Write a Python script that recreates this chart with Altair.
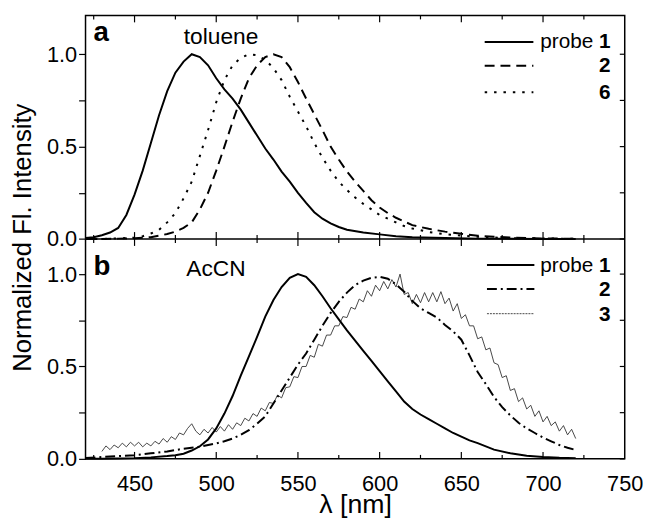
import altair as alt
import numpy as np
import pandas as pd

# ---------------- data ----------------
# Panel a: toluene
A1_WL = [420,425,430,435,440,445,450,455,460,465,470,475,480,485,490,495,500,505,510,515,520,525,530,535,540,545,550,555,560,565,570,575,580,590,600,610,620,640,660,680,700,720]
A1_I = [0.005,0.01,0.02,0.035,0.06,0.13,0.24,0.37,0.52,0.67,0.80,0.90,0.96,1.0,0.985,0.94,0.87,0.81,0.76,0.70,0.63,0.56,0.49,0.43,0.365,0.31,0.25,0.195,0.145,0.11,0.085,0.065,0.05,0.035,0.025,0.015,0.01,0.005,0.002,0.001,0.0,0.0]

A2_WL = [420,430,440,450,460,465,470,475,480,485,490,495,500,505,510,515,520,525,530,535,540,545,550,555,560,565,570,575,580,585,590,595,600,605,610,615,620,630,640,650,660,670,680,690,700,710,720]
A2_I = [0.0,0.0,0.002,0.004,0.01,0.018,0.027,0.04,0.06,0.09,0.16,0.25,0.37,0.50,0.635,0.76,0.87,0.94,0.985,1.0,0.985,0.93,0.85,0.76,0.675,0.59,0.50,0.43,0.365,0.31,0.26,0.21,0.17,0.14,0.115,0.095,0.075,0.055,0.04,0.028,0.018,0.012,0.008,0.005,0.003,0.002,0.001]

A6_WL = [420,430,440,450,455,460,465,470,475,480,485,490,495,500,505,510,515,520,525,530,535,540,545,550,555,560,565,570,575,580,585,590,595,600,605,610,615,620,630,640,650,660,670,680,700,720]
A6_I = [0.0,0.0,0.003,0.008,0.015,0.03,0.05,0.09,0.14,0.22,0.31,0.45,0.59,0.74,0.86,0.94,0.98,1.0,0.995,0.97,0.925,0.86,0.77,0.69,0.61,0.52,0.44,0.37,0.31,0.265,0.225,0.19,0.16,0.13,0.11,0.09,0.07,0.057,0.038,0.026,0.018,0.012,0.008,0.005,0.003,0.001]

# Panel b: AcCN
B1_WL = [420,430,440,450,460,470,475,480,485,490,495,500,505,510,515,520,525,530,535,540,545,550,555,560,565,570,575,580,585,590,595,600,605,610,615,620,625,630,635,640,645,650,655,660,670,680,690,700,710,720]
B1_I = [0.0,0.0,0.002,0.004,0.008,0.015,0.02,0.028,0.045,0.068,0.105,0.165,0.245,0.34,0.45,0.555,0.66,0.77,0.86,0.93,0.98,1.0,0.985,0.94,0.88,0.815,0.755,0.695,0.64,0.585,0.53,0.475,0.42,0.365,0.31,0.27,0.24,0.215,0.19,0.165,0.14,0.12,0.10,0.085,0.05,0.03,0.017,0.01,0.006,0.004]

B2_WL = [420,430,440,450,460,470,480,490,500,505,510,515,520,525,530,535,540,545,550,555,560,565,570,575,580,585,590,595,600,605,610,615,620,625,630,635,640,645,650,655,660,665,670,675,680,685,690,695,700,705,710,715,720]
B2_I = [0.005,0.01,0.015,0.02,0.03,0.04,0.055,0.066,0.084,0.095,0.11,0.13,0.155,0.19,0.23,0.30,0.37,0.44,0.51,0.57,0.645,0.72,0.79,0.85,0.90,0.94,0.965,0.98,0.985,0.975,0.945,0.905,0.855,0.815,0.79,0.765,0.725,0.69,0.645,0.56,0.47,0.405,0.335,0.28,0.235,0.195,0.165,0.14,0.115,0.095,0.075,0.06,0.048]

B3_WL = list(np.arange(430, 720.1, 2.5))
B3_I = [0.04,0.07,0.05,0.075,0.06,0.085,0.065,0.09,0.07,0.09,0.065,0.085,0.07,0.095,0.08,0.11,0.09,0.12,0.105,0.14,
        0.13,0.165,0.19,0.15,0.13,0.16,0.14,0.17,0.145,0.175,0.15,0.185,0.16,0.195,0.18,0.22,0.205,0.245,0.23,0.275,
        0.26,0.305,0.30,0.345,0.33,0.385,0.39,0.445,0.44,0.5,0.5,0.56,0.55,0.62,0.61,0.67,0.67,0.72,0.72,0.77,
        0.765,0.82,0.81,0.865,0.85,0.91,0.88,0.94,0.91,0.96,0.92,0.97,0.93,1.0,0.89,0.9,0.84,0.89,0.845,0.9,
        0.85,0.9,0.85,0.905,0.84,0.87,0.8,0.84,0.76,0.78,0.72,0.72,0.65,0.66,0.59,0.6,0.52,0.51,0.44,0.45,
        0.37,0.38,0.31,0.33,0.27,0.29,0.23,0.26,0.2,0.23,0.18,0.2,0.15,0.18,0.13,0.16,0.11]

X_MAJOR = [450, 500, 550, 600, 650, 700]
X_MINOR = [425, 475, 525, 575, 625, 675, 725]
X_LABELS = [450, 500, 550, 600, 650, 700, 750]
Y_TICKS = [0, 0.25, 0.5, 0.75, 1.0]
Y_LABELS = {0: "0.0", 0.5: "0.5", 1.0: "1.0"}

# Both panels share one plot: panel a on top (0..1.21), panel b shifted below (offset 1.19)
OFF_B = 1.19
W, H = 546, 449
Y_DOM = [-OFF_B, 1.21]
HB_PX = H * 1.21 / (1.21 + OFF_B)   # pixel row of the panel boundary
FONT = "Liberation Sans"

xscale = alt.Scale(domain=[420, 750], nice=False, zero=False)
yscale = alt.Scale(domain=Y_DOM, nice=False, zero=False)

ticks_a = [float(v) for v in Y_TICKS]
ticks_b = [round(v - OFF_B, 4) for v in Y_TICKS]
label_pairs = [(float(v), s) for v, s in Y_LABELS.items()] + [(round(v - OFF_B, 4), s) for v, s in Y_LABELS.items()]
label_expr = " : ".join(f"datum.value == {v} ? '{s}'" for v, s in label_pairs) + " : ''"

yaxis = alt.Axis(values=ticks_b + ticks_a, labelExpr=label_expr,
                 tickSize=7, tickWidth=1.2, tickColor="black", domain=False, grid=False,
                 labelFontSize=22, labelPadding=2, title="Normalized Fl. Intensity",
                 titleFontSize=26, titlePadding=11)
xaxis = alt.Axis(values=X_LABELS, ticks=False, domain=False, grid=False,
                 labelFontSize=22, labelPadding=15, labelFlush=False,
                 title="λ [nm]", titleFontSize=27, titlePadding=-3)

X_ENC = alt.X("wl:Q", scale=xscale, axis=xaxis)
Y_ENC = alt.Y("Y:Q", scale=yscale, axis=yaxis)


def df(wl, vals, offset=0.0):
    return pd.DataFrame({"wl": wl, "Y": [v - offset for v in vals]})


def line(data, dash=None, width=2.0, color="black"):
    props = dict(color=color, strokeWidth=width, strokeCap="butt")
    if dash:
        props["strokeDash"] = dash
    return alt.Chart(data).mark_line(**props).encode(x=X_ENC, y=Y_ENC)


def xrule(vals, y1, y2):
    d = pd.DataFrame({"wl": vals})
    return alt.Chart(d).mark_rule(color="black", strokeWidth=1.2).encode(
        x=X_ENC, y=alt.value(y1), y2=alt.value(y2))


one = pd.DataFrame({"k": [0]})


def txt(s, x, y, size, bold=False):
    return alt.Chart(one).mark_text(text=s, align="left", baseline="alphabetic", fontSize=size,
                                     font=FONT, fontWeight="bold" if bold else "normal",
                                     color="black").encode(x=alt.value(x), y=alt.value(y))


def leg_rule(x1, x2, y, dash=None, width=2.0, color="black"):
    props = dict(color=color, strokeWidth=width, strokeCap="butt")
    if dash:
        props["strokeDash"] = dash
    return alt.Chart(one).mark_rule(**props).encode(x=alt.value(x1), x2=alt.value(x2), y=alt.value(y))


layers = [
    line(df(A1_WL, A1_I)),
    line(df(A2_WL, A2_I), dash=[10, 6]),
    line(df(A6_WL, A6_I), dash=[2.5, 7]),
    line(df(B3_WL, B3_I, OFF_B), width=0.9, color="#333333"),
    line(df(B1_WL, B1_I, OFF_B)),
    line(df(B2_WL, B2_I, OFF_B), dash=[10, 4, 2, 4]),
    # panel boundary
    alt.Chart(pd.DataFrame({"Y": [0.0]})).mark_rule(color="black", strokeWidth=1.5).encode(
        y=Y_ENC, x=alt.value(0), x2=alt.value(W)),
    # inward x ticks: bottom, top, and both sides of the boundary
    xrule(X_MAJOR, H, H - 7), xrule(X_MINOR, H, H - 4),
    xrule(X_MAJOR, 0, 7), xrule(X_MINOR, 0, 4),
    xrule(X_MAJOR, HB_PX, HB_PX - 7), xrule(X_MINOR, HB_PX, HB_PX - 4),
    xrule(X_MAJOR, HB_PX, HB_PX + 7), xrule(X_MINOR, HB_PX, HB_PX + 4),
    # inward right ticks
    alt.Chart(pd.DataFrame({"Y": ticks_a + ticks_b})).mark_rule(color="black", strokeWidth=1.2).encode(
        y=Y_ENC, x=alt.value(W), x2=alt.value(W - 5)),
    # panel a annotations and legend
    txt("a", 8, 26, 28, bold=True),
    txt("toluene", 99.5, 29.4, 23),
    leg_rule(404.2, 453.5, 27),
    leg_rule(404.2, 453.5, 51, dash=[10, 6]),
    leg_rule(404.2, 453.5, 77.7, dash=[2.5, 7]),
    txt("probe", 460.5, 32.7, 21),
    txt("1", 520, 32.7, 21, bold=True),
    txt("2", 520, 57.7, 21, bold=True),
    txt("6", 520, 84.4, 21, bold=True),
    # panel b annotations and legend
    txt("b", 8, 262.7, 28, bold=True),
    txt("AcCN", 102, 263.7, 23),
    leg_rule(406.5, 454.5, 252.7),
    leg_rule(406.5, 454.5, 277, dash=[10, 4, 2, 4]),
    leg_rule(406.5, 454.5, 302, dash=[2, 1], width=0.9, color="#333333"),
    txt("probe", 460.5, 259.4, 21),
    txt("1", 520, 259.4, 21, bold=True),
    txt("2", 520, 284.4, 21, bold=True),
    txt("3", 520, 309.4, 21, bold=True),
]

chart = alt.layer(*layers).properties(
    width=W, height=H,
    autosize=alt.AutoSizeParams(type="none"),
    padding={"left": 78.5, "top": 4.3, "right": 18.5, "bottom": 60.7},
).configure_view(stroke="black", strokeWidth=1.5).configure_axis(
    labelFont=FONT, titleFont=FONT, titleFontWeight="normal",
    labelColor="black", titleColor="black"
)

chart.save("out.html", embed_options={"renderer": "svg", "actions": False})
